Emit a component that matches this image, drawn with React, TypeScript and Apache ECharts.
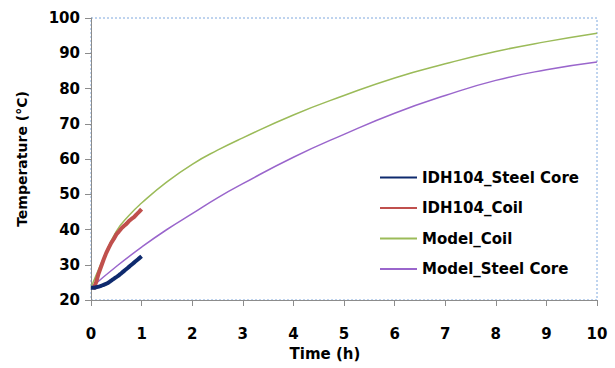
import React, { useEffect, useRef } from "react";
import * as echarts from "echarts";

const steelCoreT = [0, 0.05, 0.1, 0.15, 0.2, 0.25, 0.3, 0.35, 0.4, 0.45, 0.5, 0.55, 0.6, 0.65, 0.7, 0.75, 0.8, 0.85, 0.9, 0.95, 1.0];
const steelCoreV = [23.5, 23.5, 23.6, 23.8, 24.0, 24.3, 24.6, 25.0, 25.5, 26.0, 26.5, 27.0, 27.6, 28.2, 28.8, 29.4, 30.0, 30.6, 31.2, 31.8, 32.4];

const coilT = [0.05, 0.1, 0.15, 0.2, 0.25, 0.3, 0.35, 0.4, 0.45, 0.5, 0.55, 0.6, 0.65, 0.7, 0.75, 0.8, 0.85, 0.9, 0.95, 1.0];
const coilV = [23.0, 25.0, 27.5, 29.5, 31.5, 33.3, 34.8, 36.2, 37.3, 38.6, 39.4, 40.3, 41.0, 41.6, 42.4, 43.0, 43.5, 44.3, 45.0, 45.8];

const modelCoilT = [0, 0.1, 0.25, 0.5, 0.75, 1, 1.5, 2, 2.5, 3, 4, 5, 6, 7, 8, 9, 10];
const modelCoilV = [23.5, 27, 32, 39.5, 44, 47.5, 53.5, 58.5, 62.5, 66, 72.5, 78, 83, 87, 90.5, 93.3, 95.7];

const modelSteelT = [0, 0.5, 1, 1.5, 2, 2.5, 3, 4, 5, 6, 7, 8, 9, 10];
const modelSteelV = [23.5, 29.5, 35, 40, 44.5, 49, 53, 60.5, 67, 73, 78, 82.3, 85.3, 87.5];

const seriesNames = ["IDH104_Steel Core", "IDH104_Coil", "Model_Coil", "Model_Steel Core"];
const xTicks = { min: 0, max: 10, interval: 1 };
const yTicks = { min: 20, max: 100, interval: 10 };

const zip = (t: number[], v: number[]) => t.map((x, i) => [x, v[i]]);

export default function App() {
  const ref = useRef<HTMLDivElement>(null);
  useEffect(() => {
    if (!ref.current) return;
    const chart = echarts.init(ref.current, null, { renderer: "svg" });
    const font = "DejaVu Sans";
    const axisCommon = {
      axisLine: { show: true, lineStyle: { color: "#8c8c8c", width: 1 } },
      axisTick: { show: true, length: 6, lineStyle: { color: "#8c8c8c" } },
      splitLine: { show: false },
    };
    chart.setOption({
      animation: false,
      backgroundColor: "#ffffff",
      grid: {
        left: 91, right: 18, top: 18, bottom: 68,
        show: true, borderColor: "#7FA8DE", borderWidth: 1, borderType: [2, 2],
        backgroundColor: "transparent",
      },
      legend: {
        orient: "vertical",
        left: 374, top: 165,
        itemWidth: 37, itemHeight: 14, itemGap: 15.5, itemTextGap: 4,
        itemStyle: { opacity: 0 },
        data: seriesNames,
        textStyle: { fontFamily: font, fontWeight: "bold", fontSize: 15, color: "#000" },
      },
      xAxis: {
        type: "value", ...xTicks,
        ...axisCommon,
        axisLabel: { margin: 26, fontFamily: font, fontWeight: "bold", fontSize: 15, color: "#000" },
        name: "Time (h)", nameLocation: "middle", nameGap: 46,
        nameTextStyle: { fontFamily: font, fontWeight: "bold", fontSize: 15, color: "#000", padding: [0, 38, 0, 0] },
      },
      yAxis: {
        type: "value", ...yTicks,
        ...axisCommon,
        axisLabel: { margin: 11, fontFamily: font, fontWeight: "bold", fontSize: 15, color: "#000" },
        name: "Temperature (°C)", nameLocation: "middle", nameGap: 62,
        nameTextStyle: { fontFamily: font, fontWeight: "bold", fontSize: 14, color: "#000" },
      },
      series: [
        { name: seriesNames[0], type: "line", data: zip(steelCoreT, steelCoreV), symbol: "none", smooth: true, lineStyle: { color: "#0E2A6E", width: 4 }, itemStyle: { color: "#0E2A6E" }, z: 4 },
        { name: seriesNames[1], type: "line", data: zip(coilT, coilV), symbol: "none", lineStyle: { color: "#C0504D", width: 4 }, itemStyle: { color: "#C0504D" }, z: 3 },
        { name: seriesNames[2], type: "line", data: zip(modelCoilT, modelCoilV), symbol: "none", smooth: true, lineStyle: { color: "#9BBB59", width: 1.5 }, itemStyle: { color: "#9BBB59" }, z: 2 },
        { name: seriesNames[3], type: "line", data: zip(modelSteelT, modelSteelV), symbol: "none", smooth: true, lineStyle: { color: "#9A66CC", width: 1.5 }, itemStyle: { color: "#9A66CC" }, z: 2 },
      ],
    });
    return () => chart.dispose();
  }, []);
  return <div ref={ref} style={{ width: 615, height: 368, position: "absolute", left: 0, top: 0 }} />;
}
